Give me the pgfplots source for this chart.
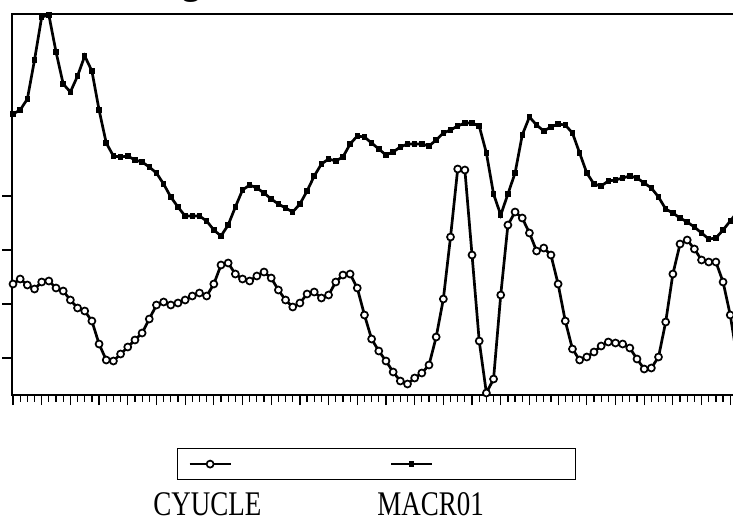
\documentclass[border=0pt]{standalone}
\usepackage{fontspec}
\setmainfont{Liberation Serif}
\usepackage{graphicx}
\usepackage{pgfplots}
\usepackage{pgfplotstable}
\pgfplotsset{compat=1.18}
\pgfplotstableread{
i cy ma
0 111 281
1 116 285
2 110 296
3 106 335
4 113 378
5 114 380
6 107 343
7 104 311
8 95 303
9 87 319
10 84 339
11 74 324
12 51 285
13 35 252
14 34 239
15 41 238
16 48 239
17 55 235
18 62 233
19 76 228
20 90 222
21 93 211
22 90 198
23 92 188
24 95 179
25 99 179
26 102 179
27 99 174
28 111 165
29 130 159
30 132 170
31 121 188
32 116 205
33 114 210
34 119 207
35 123 202
36 117 196
37 105 191
38 95 187
39 88 183
40 92 191
41 101 204
42 103 219
43 97 231
44 100 236
45 113 234
46 120 238
47 121 251
48 107 259
49 80 258
50 56 252
51 44 246
52 34 240
53 23 243
54 14 248
55 11 251
56 17 251
57 22 251
58 30 249
59 58 255
60 96 262
61 158 265
62 226 269
63 225 272
64 140 272
65 54 269
66 2 242
67 16 201
68 100 180
69 170 201
70 183 222
71 177 260
72 162 278
73 144 270
74 147 264
75 140 268
76 111 271
77 74 270
78 46 262
79 35 242
80 38 222
81 43 211
82 49 209
83 53 214
84 52 215
85 51 217
86 47 219
87 36 217
88 26 212
89 27 207
90 38 198
91 73 186
92 121 182
93 151 177
94 155 173
95 146 168
96 135 162
97 133 156
98 133 157
99 113 165
100 80 174
101 35 183
}\data
\begin{document}
\begin{tikzpicture}
\begin{axis}[
  at={(6pt,63pt)}, anchor=south west,
  scale only axis, width=364.5pt, height=190.5pt,
  xmin=-0.14, xmax=101.5, ymin=0, ymax=381,
  axis line style={line width=0.8pt},
  xtick={0,4,...,100}, minor xtick={1,2,3,5,6,7,9,10,11,13,14,15,17,18,19,21,22,23,25,26,27,29,30,31,33,34,35,37,38,39,41,42,43,45,46,47,49,50,51,53,54,55,57,58,59,61,62,63,65,66,67,69,70,71,73,74,75,77,78,79,81,82,83,85,86,87,89,90,91,93,94,95,97,98,99,101},
  xticklabels={},
  ytick={37,91,145,199}, yticklabels={},
  tick align=outside, tick pos=left,
  major tick length=5pt, minor tick length=3.3pt,
  tick style={black, line width=0.6pt},
  legend columns=2,
  legend image code/.code={%
    \draw[#1] (0pt,0pt) -- (20.5pt,0pt);
    \draw[#1] plot coordinates {(10.25pt,0pt)};},
  legend style={at={(axis description cs:0.2259,-0.1391)}, anchor=north west,
    draw=black, line width=0.6pt, fill=white,
    inner xsep=5.5pt, inner ysep=6pt,
    nodes={inner sep=0pt, text depth=0pt},
    /tikz/column sep=0pt, /tikz/row sep=0pt},
]
\addplot[black, line width=1.35pt, mark=*, mark size=1.75pt,
  mark options={fill=white, line width=0.85pt, solid}]
  table[x=i, y=cy] {\data};
\addlegendentry{\hspace*{78.85pt}}
\addplot[black, line width=1.35pt, mark=square*, mark size=0.7pt]
  table[x=i, y=ma] {\data};
\addlegendentry{\hspace*{65.7pt}}
\end{axis}
\node[anchor=base west, font=\fontsize{13.5pt}{14pt}\selectfont, inner sep=0pt] at (76.5pt,3pt) {\scalebox{1}[1.28]{CYUCLE}};
\node[anchor=base west, font=\fontsize{13.5pt}{14pt}\selectfont, inner sep=0pt] at (188.5pt,3pt) {\scalebox{1}[1.28]{MACR01}};
\node[anchor=base, font=\bfseries\fontsize{18pt}{18pt}\selectfont, inner sep=0pt] at (95.5pt,263pt) {g};
\pgfresetboundingbox
\useasboundingbox (0,0) rectangle (366.5pt,260.5pt);
\end{tikzpicture}
\end{document}
